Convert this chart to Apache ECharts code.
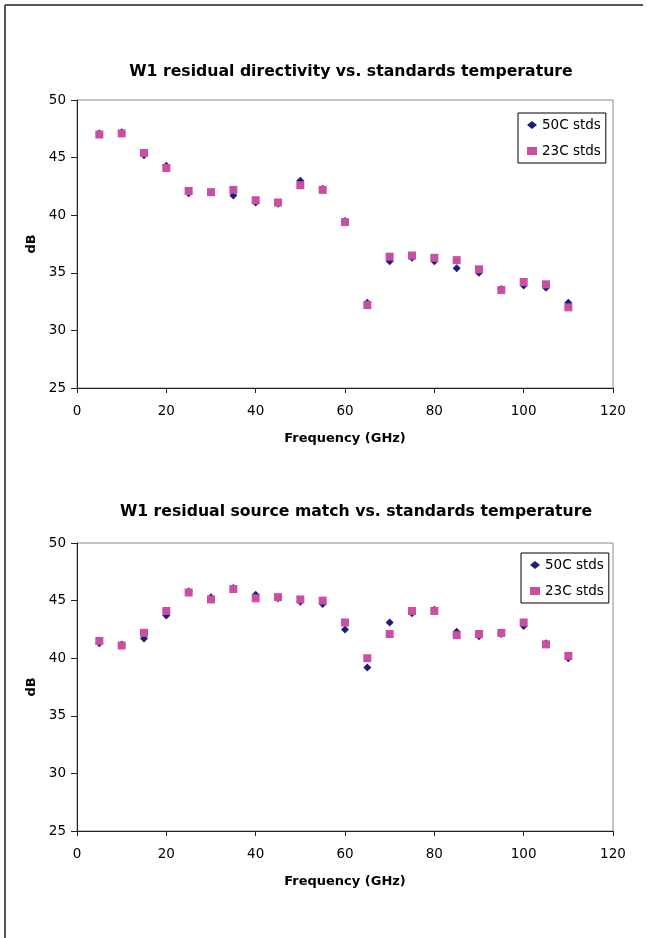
<!DOCTYPE html>
<html>
<head>
    <meta charset="utf-8">
    <title>W1 residual vs. standards temperature</title>
    <script src="https://cdn.jsdelivr.net/npm/echarts@6.0.0/dist/echarts.min.js"></script>
    <style>
        html, body { margin: 0; padding: 0; background: #fff; }
        #main { width: 647px; height: 938px; }
    </style>
</head>
<body>
<div id="main"></div>
<script type="text/javascript">
    // frequency points (GHz)
    var freq = [5, 10, 15, 20, 25, 30, 35, 40, 45, 50, 55, 60, 65, 70, 75, 80, 85, 90, 95, 100, 105, 110];
    // residual directivity (dB)
    var dir50 = [47.1, 47.2, 45.2, 44.3, 41.9, 42.0, 41.7, 41.1, 41.0, 43.0, 42.3, 39.5, 32.4, 36.0, 36.3, 36.0, 35.4, 35.0, 33.6, 33.9, 33.7, 32.4];
    var dir23 = [47.0, 47.1, 45.4, 44.1, 42.1, 42.0, 42.2, 41.3, 41.1, 42.6, 42.2, 39.4, 32.2, 36.4, 36.5, 36.3, 36.1, 35.3, 33.5, 34.2, 34.0, 32.0];
    // residual source match (dB)
    var sm50 = [41.3, 41.2, 41.7, 43.7, 45.8, 45.3, 46.1, 45.5, 45.2, 44.9, 44.7, 42.5, 39.2, 43.1, 43.9, 44.2, 42.3, 41.9, 42.1, 42.8, 41.3, 40.0];
    var sm23 = [41.5, 41.1, 42.2, 44.1, 45.7, 45.1, 46.0, 45.2, 45.3, 45.1, 45.0, 43.1, 40.0, 42.1, 44.1, 44.1, 42.0, 42.1, 42.2, 43.1, 41.2, 40.2];
    var seriesNames = ['50C stds', '23C stds'];
    var titles = ['W1 residual directivity vs. standards temperature', 'W1 residual source match vs. standards temperature'];

    function pairs(xs, ys) {
        var out = [];
        for (var i = 0; i < xs.length; i++) out.push([xs[i], ys[i]]);
        return out;
    }

    var font = 'DejaVu Sans';
    var navy = '#1d1d80';
    var pink = '#c94fa3';

    function xAx(idx) {
        return {
            gridIndex: idx, type: 'value', min: 0, max: 120, interval: 20,
            name: 'Frequency (GHz)', nameLocation: 'middle', nameGap: 44,
            nameTextStyle: { fontFamily: font, fontWeight: 'bold', fontSize: 13, color: '#000' },
            axisLine: { show: true, onZero: false, lineStyle: { color: '#222', width: 1 } },
            axisTick: { show: true, inside: false, length: 5, lineStyle: { color: '#222' } },
            axisLabel: { margin: 16, fontFamily: font, fontSize: 13.5, color: '#000' },
            splitLine: { show: false }
        };
    }
    function yAx(idx) {
        return {
            gridIndex: idx, type: 'value', min: 25, max: 50, interval: 5,
            name: 'dB', nameLocation: 'middle', nameRotate: 90, nameGap: 37,
            nameTextStyle: { fontFamily: font, fontWeight: 'bold', fontSize: 13, color: '#000' },
            axisLine: { show: true, onZero: false, lineStyle: { color: '#222', width: 1 } },
            axisTick: { show: true, inside: false, length: 6, lineStyle: { color: '#222' } },
            axisLabel: { margin: 11, fontFamily: font, fontSize: 13.5, color: '#000' },
            splitLine: { show: false }
        };
    }
    function legendAt(idx, left, top) {
        return {
            orient: 'vertical', left: left, top: top,
            padding: [5, 5, 5, 9],
            itemWidth: 10, itemHeight: 8, itemGap: 12,
            backgroundColor: '#fff', borderColor: '#000', borderWidth: 1,
            textStyle: { fontFamily: font, fontSize: 13.5, color: '#000', lineHeight: 12 },
            data: [
                { name: seriesNames[0] + (idx ? ' ' : ''), icon: 'diamond' },
                { name: seriesNames[1] + (idx ? ' ' : ''), icon: 'rect' }
            ],
            formatter: function (n) { return n.trim(); }
        };
    }
    function scat(idx, name, data, symbol, color, size) {
        return {
            type: 'scatter', name: name + (idx ? ' ' : ''),
            xAxisIndex: idx, yAxisIndex: idx,
            data: data, symbol: symbol, symbolSize: size,
            itemStyle: { color: color, opacity: 1 },
            animation: false
        };
    }

    var myChart = echarts.init(document.getElementById('main'));
    var option = {
        backgroundColor: '#fff',
        animation: false,
        title: [{
            text: titles[0], left: 351, top: 64, textAlign: 'center', padding: 0,
            textStyle: { fontFamily: font, fontWeight: 'bold', fontSize: 15.7, color: '#000' }
        }, {
            text: titles[1], left: 356, top: 504, textAlign: 'center', padding: 0,
            textStyle: { fontFamily: font, fontWeight: 'bold', fontSize: 15.7, color: '#000' }
        }],
        grid: [
            { left: 77, top: 100, width: 536, height: 288, show: true, borderColor: '#8a8a8a', borderWidth: 1 },
            { left: 77, top: 543, width: 536, height: 288, show: true, borderColor: '#8a8a8a', borderWidth: 1 }
        ],
        xAxis: [xAx(0), xAx(1)],
        yAxis: [yAx(0), yAx(1)],
        legend: [legendAt(0, 518, 113), legendAt(1, 521, 553)],
        series: [
            scat(0, seriesNames[0], pairs(freq, dir50), 'diamond', navy, 8),
            scat(0, seriesNames[1], pairs(freq, dir23), 'rect', pink, 8),
            scat(1, seriesNames[0], pairs(freq, sm50), 'diamond', navy, 8),
            scat(1, seriesNames[1], pairs(freq, sm23), 'rect', pink, 8)
        ],
        graphic: [
            { type: 'line', silent: true, shape: { x1: 5, y1: 5, x2: 643, y2: 5 }, style: { stroke: '#555', lineWidth: 2 } },
            { type: 'line', silent: true, shape: { x1: 5, y1: 5, x2: 5, y2: 938 }, style: { stroke: '#555', lineWidth: 2 } }
        ]
    };
    myChart.setOption(option);
</script>
</body>
</html>
